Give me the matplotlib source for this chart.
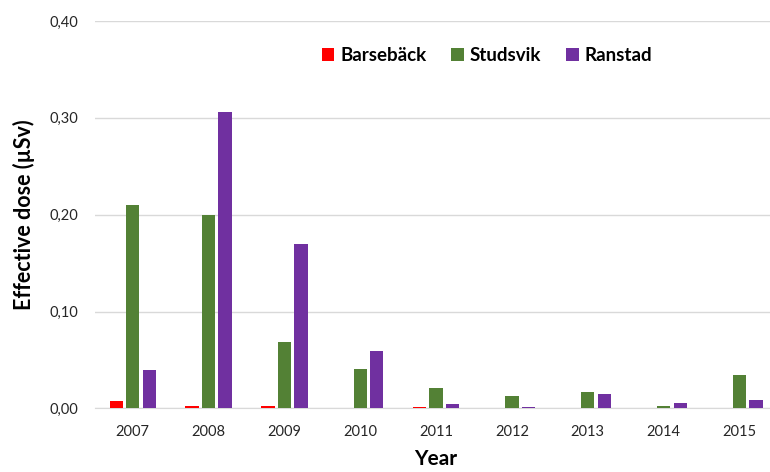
import numpy as np
import matplotlib.pyplot as plt

plt.rcParams['font.family'] = ['Lato', 'DejaVu Sans']

years = ["2007", "2008", "2009", "2010", "2011", "2012", "2013", "2014", "2015"]
barseback = [0.008, 0.003, 0.0025, 0.0005, 0.0015, 0.0005, 0.0005, 0.0003, 0.0003]
studsvik = [0.210, 0.200, 0.069, 0.041, 0.021, 0.013, 0.017, 0.003, 0.035]
ranstad = [0.040, 0.306, 0.170, 0.059, 0.0045, 0.002, 0.015, 0.0057, 0.0085]

x = np.arange(len(years))
w = 0.175

fig = plt.figure(figsize=(7.7, 4.72), dpi=100)
# axes runs a bit past the right edge, like the original
ax = fig.add_axes([0.1231, 0.1346, 0.8865, 0.8209])

ax.bar(x - 0.218, barseback, w, color="#ff0000", label="Barsebäck", zorder=3)
ax.bar(x, studsvik, w, color="#538135", label="Studsvik", zorder=3)
ax.bar(x + 0.218, ranstad, w, color="#7030a0", label="Ranstad", zorder=3)

ax.set_xlim(-0.5, len(years) - 0.5)
ax.set_ylim(0, 0.40)
ax.set_yticks([0, 0.1, 0.2, 0.3, 0.4])
ax.set_yticklabels(["0,00", "0,10", "0,20", "0,30", "0,40"])
ax.set_xticks(x)
ax.set_xticklabels(years)
ax.tick_params(axis="both", length=0, labelsize=10.5, colors="#262626")
ax.tick_params(axis="x", pad=12)
ax.tick_params(axis="y", pad=12)

ax.grid(axis="y", color="#d9d9d9", linewidth=1, zorder=0)
for s in ["top", "right", "left"]:
    ax.spines[s].set_visible(False)
ax.spines["bottom"].set_color("#d9d9d9")

ax.set_ylabel("Effective dose (µSv)", fontsize=15.5, fontweight="bold", labelpad=10)
ax.set_xlabel("Year", fontsize=15, fontweight="bold", labelpad=7)

ax.legend(loc="center", bbox_to_anchor=(0.5746, 0.912), ncol=3, frameon=False,
          prop={"size": 13.5, "weight": "bold"}, handlelength=0.69, handleheight=0.69,
          handletextpad=0.32, columnspacing=1.3)

plt.savefig("out.png")
